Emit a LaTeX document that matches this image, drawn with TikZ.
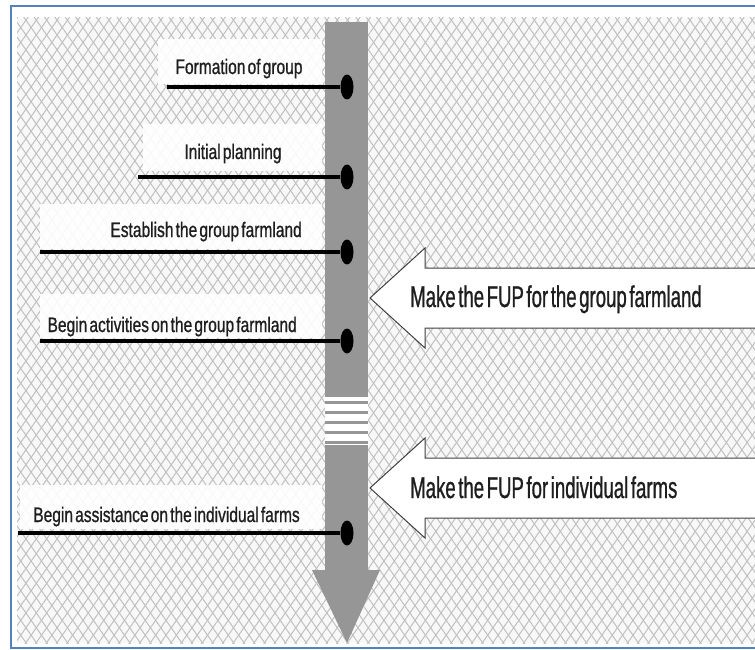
\documentclass[tikz,border=0pt]{standalone}
\usepackage{fontspec}
\setmainfont{Liberation Sans}
\newfontfamily\stagefont{Liberation Sans}[FakeStretch=0.74, WordSpace=0.5, FakeBold=0.8]
\newfontfamily\fupfont{Liberation Sans}[FakeStretch=0.62, WordSpace=0.5, FakeBold=0.8]
\usetikzlibrary{shapes.geometric, patterns.meta, calc}
\definecolor{framebl}{RGB}{84,130,190}
\definecolor{bargray}{RGB}{150,150,150}
\definecolor{meshgray}{RGB}{192,192,192}
\definecolor{meshbg}{RGB}{248,248,248}
\definecolor{txtgray}{RGB}{30,30,30}

\begin{document}
\begin{tikzpicture}[x=1pt, y=-1pt,
  stagedot/.style={ellipse, fill=black, inner sep=0pt, minimum width=13pt, minimum height=25pt},
  stageline/.style={line width=3.5pt, black},
  stagebox/.style={fill=white, fill opacity=0.9},
  stagelbl/.style={inner sep=0pt, font=\stagefont\fontsize{21}{23}\selectfont, text=txtgray},
  fuparrow/.style={fill=white, draw=black!75, line width=1pt},
  fuplbl/.style={anchor=base west, inner sep=0pt, font=\fupfont\fontsize{30}{32}\selectfont, text=txtgray}]
  \useasboundingbox (0,0) rectangle (755,650);
  \clip (0,0) rectangle (755,650);
  \fill[white] (0,0) rectangle (755,650);

  % Frame and mesh background
  \fill[meshbg] (17,18) rectangle (770,643);
  \fill[pattern={Lines[angle=55, distance=8.5pt, line width=1pt]}, pattern color=meshgray] (17,18) rectangle (770,643);
  \fill[pattern={Lines[angle=125, distance=8.5pt, line width=1pt]}, pattern color=meshgray] (17,18) rectangle (770,643);
  \draw[framebl, line width=2pt] (11,6) rectangle (770,648);

  % Time bar with break
  \fill[bargray] (325,22) rectangle (368,397);
  \fill[white] (325,397) rectangle (368,445);
  \foreach \yy in {402,412,422,432,442}
    \fill[bargray] (325,\yy-1.5) rectangle (368,\yy+1.5);
  \fill[bargray] (325,445) rectangle (368,570);
  \fill[bargray] (312,570) -- (380,570) -- (347,643) -- cycle;

  % Block arrows
  \draw[fuparrow] (370,298) -- (425,248) -- (425,268) -- (770,268) -- (770,328)
    -- (425,328) -- (425,348) -- cycle;
  \node[fuplbl] (fup1) at (410,307) {Make the FUP for the group farmland};
  \draw[fuparrow] (370,488) -- (425,438) -- (425,458) -- (770,458) -- (770,518)
    -- (425,518) -- (425,538) -- cycle;
  \node[fuplbl] (fup2) at (410,498) {Make the FUP for individual farms};

  % White boxes behind the stage labels
  \fill[stagebox] (158,39) rectangle (322,84);
  \fill[stagebox] (143,124) rectangle (322,171);
  \fill[stagebox] (40,204) rectangle (322,249);
  \fill[stagebox] (40,294) rectangle (322,338);
  \fill[stagebox] (20,485) rectangle (322,529);

  % Stage labels
  \node[stagelbl, anchor=base] (lbl1) at (239,74) {Formation of group};
  \node[stagelbl, anchor=base] (lbl2) at (233,159) {Initial planning};
  \node[stagelbl, anchor=base east] (lbl3) at (302,237) {Establish the group farmland};
  \node[stagelbl, anchor=base east] (lbl4) at (297,332) {Begin activities on the group farmland};
  \node[stagelbl, anchor=base east] (lbl5) at (300,522) {Begin assistance on the individual farms};

  % Stage points on the bar
  \node[stagedot] (d1) at (347,87) {};
  \node[stagedot] (d2) at (347,177) {};
  \node[stagedot] (d3) at (347,252) {};
  \node[stagedot] (d4) at (347,341) {};
  \node[stagedot] (d5) at (347,533) {};
  \coordinate (s1) at (167,87);
  \coordinate (s2) at (138,177);
  \coordinate (s3) at (40,252);
  \coordinate (s4) at (40,341);
  \coordinate (s5) at (18,533);
  \draw[stageline] (s1) -- (d1);
  \draw[stageline] (s2) -- (d2);
  \draw[stageline] (s3) -- (d3);
  \draw[stageline] (s4) -- (d4);
  \draw[stageline] (s5) -- (d5);
\end{tikzpicture}
\end{document}
